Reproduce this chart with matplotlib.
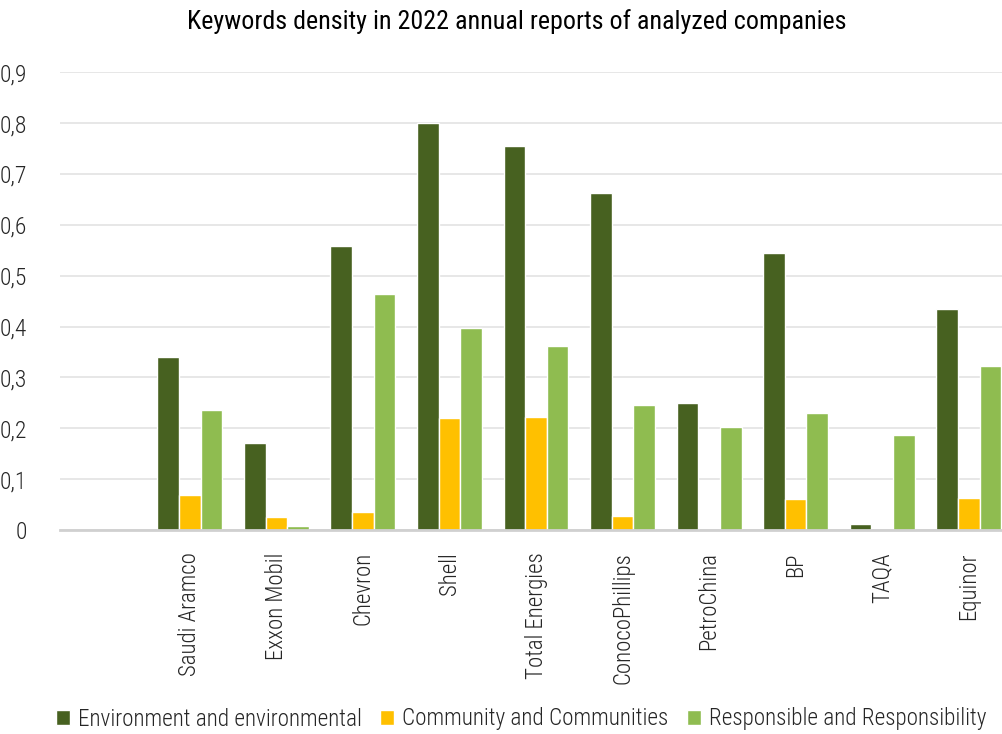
import matplotlib
matplotlib.use("Agg")
import matplotlib.pyplot as plt
import numpy as np
from matplotlib import font_manager

companies = ["", "Saudi Aramco", "Exxon Mobil", "Chevron", "Shell", "Total Energies",
             "ConocoPhillips", "PetroChina", "BP", "TAQA", "Equinor"]
environment = [0, 0.340, 0.171, 0.559, 0.801, 0.756, 0.662, 0.249, 0.544, 0.011, 0.434]
community = [0, 0.069, 0.026, 0.035, 0.221, 0.223, 0.027, 0.0, 0.060, 0.0, 0.063]
responsible = [0, 0.236, 0.007, 0.465, 0.398, 0.361, 0.245, 0.203, 0.231, 0.187, 0.322]
series_names = ["Environment and environmental", "Community and Communities",
                "Responsible and Responsibility"]
yticks = [0, 0.1, 0.2, 0.3, 0.4, 0.5, 0.6, 0.7, 0.8, 0.9]
ytick_labels = ["0", "0,1", "0,2", "0,3", "0,4", "0,5", "0,6", "0,7", "0,8", "0,9"]
title = "Keywords density in 2022 annual reports of analyzed companies"

colors = ["#476120", "#FFC000", "#8FBC50"]

available = {f.name for f in font_manager.fontManager.ttflist}
font = "DejaVu Sans"
for cand in ["Roboto Condensed", "Liberation Sans Narrow", "Roboto"]:
    if cand in available:
        font = cand
        break
plt.rcParams["font.family"] = [font, "DejaVu Sans"]

W, H = 1002, 734
fig = plt.figure(figsize=(W / 100, H / 100), dpi=100)
left_px, right_px, top_px, bottom_px = 60, 1012, 72.3, 530
ax = fig.add_axes([left_px / W, 1 - bottom_px / H, (right_px - left_px) / W, (bottom_px - top_px) / H])

x = np.arange(len(companies))
bw = 0.25
for i, (vals, name) in enumerate(zip([environment, community, responsible], series_names)):
    ax.bar(x + (i - 1) * bw, vals, width=bw, color=colors[i], edgecolor="white",
           linewidth=1.0, label=name, zorder=3)

ax.set_xlim(-0.5, len(companies) - 0.5)
ax.set_ylim(0, 0.9)
ax.set_yticks(yticks)
ax.set_yticklabels(ytick_labels, fontweight="light")
ax.set_xticks(x)
ax.set_xticklabels(companies, rotation=90, fontweight="light")
ax.tick_params(axis="y", length=0, pad=24, labelsize=17, labelcolor="#262626")
ax.tick_params(axis="x", length=0, pad=16, labelsize=16.5, labelcolor="#262626")
ax.grid(axis="y", color="#e3e3e3", linewidth=1.2, zorder=0)
for s in ["left", "right", "top"]:
    ax.spines[s].set_visible(False)
ax.spines["bottom"].set_color("#d0d0d0")
ax.spines["bottom"].set_linewidth(2)
ax.spines["bottom"].set_zorder(4)

fig.text(516.5 / W, 1 - 22 / H, title, ha="center", va="center", fontsize=18.7,
         fontweight="normal", color="#000000")

handles, labels = ax.get_legend_handles_labels()
leg = fig.legend(handles, labels, loc="center", bbox_to_anchor=(521 / W, 1 - 719 / H), ncol=3,
                 frameon=False, fontsize=16.7, handlelength=0.6, handleheight=0.6,
                 handletextpad=0.35, columnspacing=0.8, borderaxespad=0, labelcolor="#262626",
                 prop={"size": 16.7, "weight": "light"})

fig.savefig("out.png", dpi=100)
